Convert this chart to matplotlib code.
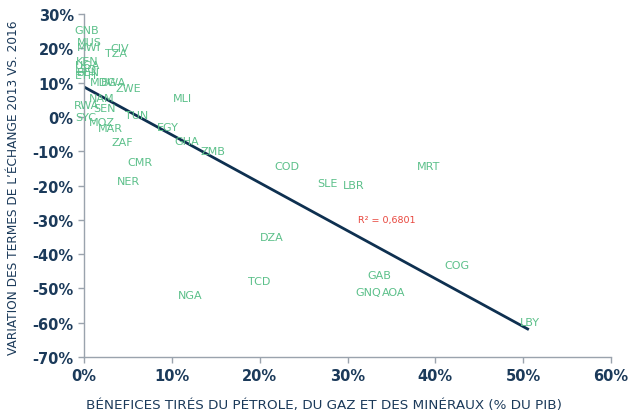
import numpy as np
import matplotlib
matplotlib.use("Agg")
import matplotlib.pyplot as plt
from matplotlib.ticker import FuncFormatter

# country codes with benefits (% of GDP) and terms-of-trade change (%)
codes = ["GNB", "MUS", "MWI", "CIV", "TZA", "KEN", "UGA", "LSO", "BEN", "ETH",
         "MDG", "BWA", "ZWE", "MLI", "NAM", "RWA", "SEN", "SYC", "MOZ", "MAR",
         "TUN", "EGY", "ZAF", "GHA", "ZMB", "CMR", "NER", "COD", "SLE", "LBR",
         "MRT", "DZA", "TCD", "GAB", "GNQ", "AOA", "COG", "LBY", "NGA"]
benef = [0.3, 0.6, 0.5, 4.0, 3.6, 0.3, 0.4, 0.2, 0.5, 0.2,
         2.2, 3.3, 5.0, 11.2, 2.0, 0.3, 2.3, 0.2, 2.0, 3.0,
         6.0, 9.5, 4.3, 11.7, 14.7, 6.3, 5.0, 23.1, 27.7, 30.7,
         39.2, 21.4, 19.9, 33.6, 32.3, 35.2, 42.4, 50.7, 12.1]
termes = [25.4, 21.9, 20.4, 20.1, 18.7, 16.3, 15.2, 14.0, 13.1, 12.2,
          10.2, 10.2, 8.5, 5.5, 5.5, 3.5, 2.6, 0.0, -1.5, -3.2,
          0.6, -2.9, -7.3, -7.0, -9.9, -13.1, -18.7, -14.3, -19.2, -19.8,
          -14.3, -35.0, -47.8, -46.1, -51.0, -51.0, -43.2, -59.8, -51.9]

# linear trend endpoints
trend_x = [0, 50.5]
trend_y = [8.7, -61.8]
r2_text = "R² = 0,6801"

navy = "#1b3a5a"
green = "#5cc08a"

plt.rcParams["font.family"] = ["DejaVu Sans"]

fig = plt.figure(figsize=(6.28, 4.14), dpi=100)
ax = fig.add_axes([0.134, 0.135, 0.839, 0.829])

for c, x, y in zip(codes, benef, termes):
    ax.text(x, y, c, color=green, fontsize=8,
            ha="center", va="center")

ax.plot(trend_x, trend_y, color="#0e3050", lw=2)
ax.text(31.2, -30.0, r2_text, color="#e8453c", fontsize=6.8,
        ha="left", va="center")

ax.set_xlim(0, 60)
ax.set_ylim(-70, 30)
ax.set_xticks(np.arange(0, 61, 10))
ax.set_yticks(np.arange(-70, 31, 10))
pct = FuncFormatter(lambda v, p: "%d%%" % v)
ax.xaxis.set_major_formatter(pct)
ax.yaxis.set_major_formatter(pct)

for s in ["top", "right"]:
    ax.spines[s].set_visible(False)
for s in ["left", "bottom"]:
    ax.spines[s].set_color("#9aa3ad")
    ax.spines[s].set_linewidth(1)
ax.tick_params(colors="#9aa3ad", labelcolor=navy, labelsize=10.5,
               length=4, width=1)
for lab in ax.get_xticklabels() + ax.get_yticklabels():
    lab.set_fontweight("bold")

ax.set_xlabel("BÉNEFICES TIRÉS DU PÉTROLE, DU GAZ ET DES MINÉRAUX (% DU PIB)",
              color=navy, fontsize=9.7)
ax.set_ylabel("VARIATION DES TERMES DE L’ÉCHANGE 2013 VS. 2016",
              color=navy, fontsize=8.7)
ax.xaxis.set_label_coords(0.455, -0.12)
ax.yaxis.set_label_coords(-0.121, 0.497)

fig.savefig("out.png", dpi=100)
